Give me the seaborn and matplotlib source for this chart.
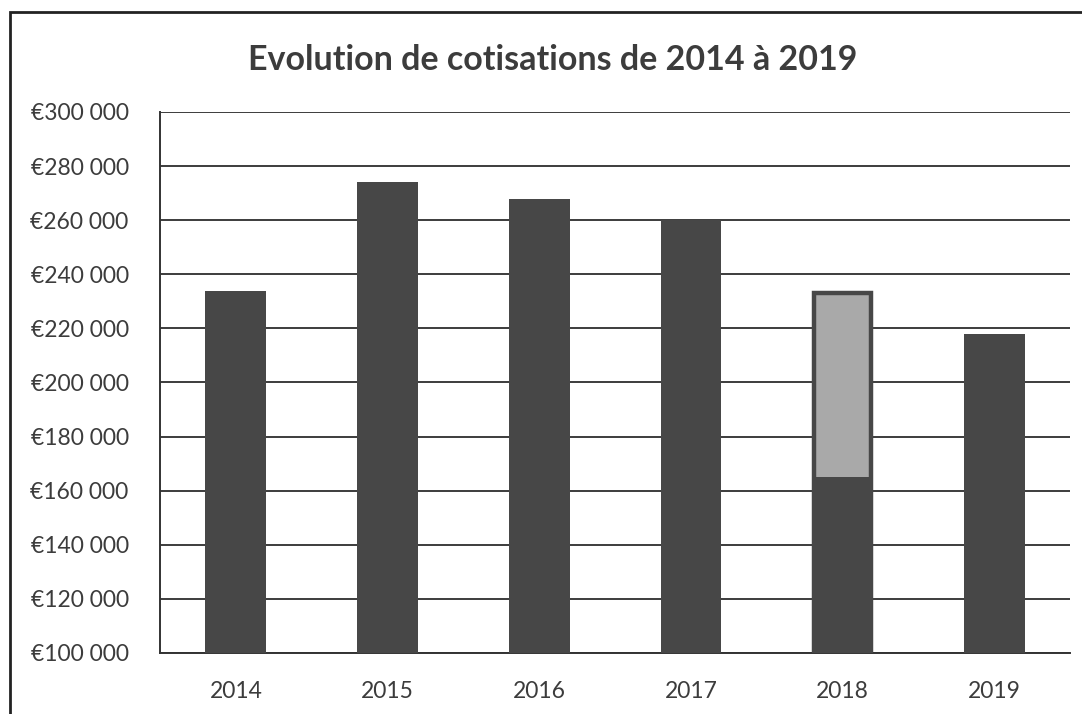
import pandas as pd
import matplotlib
matplotlib.use("Agg")
import matplotlib.pyplot as plt
import seaborn as sns
from matplotlib.ticker import FuncFormatter, FixedLocator

# === Data ===
years = ["2014", "2015", "2016", "2017", "2018", "2019"]
cotisations = [234000, 274000, 268000, 260000, 165000, 218000]
# 2018 has an extra (lighter) part stacked on top of the dark part
extra_year = ["2018"]
extra_total = [233000]

df = pd.DataFrame({"year": years, "value": cotisations})
df_extra = pd.DataFrame({"year": extra_year, "value": extra_total})

sns.set_style("white")
plt.rcParams["font.family"] = ["Lato", "DejaVu Sans"]

dark = "#474747"
light = "#a9a9a9"
text_col = "#3c3c3c"

fig, ax = plt.subplots(figsize=(10.82, 7.14), dpi=100)
fig.subplots_adjust(left=160 / 1082, right=1070 / 1082, top=1 - 112 / 714, bottom=1 - 653 / 714)

# light total for 2018 first (outline drawn inside the bar width), then the dark bars
sns.barplot(data=df_extra, x="year", y="value", order=years, color=light,
            saturation=1, width=0.37, edgecolor=dark, linewidth=3.2, ax=ax, zorder=2)
sns.barplot(data=df, x="year", y="value", order=years, color=dark,
            saturation=1, width=0.40, linewidth=0, ax=ax, zorder=3)

ax.set_ylim(100000, 300000)
ax.set_xlim(-0.5, len(years) - 0.5)
ax.set_yticks(range(100000, 300001, 20000))
ax.yaxis.set_major_formatter(FuncFormatter(lambda v, p: "€" + f"{v:,.0f}".replace(",", " ")))
ax.set_xlabel("")
ax.set_ylabel("")

ax.grid(axis="y", color="#3c3c3c", linewidth=1.4)
ax.set_axisbelow(True)
for s in ["top", "right"]:
    ax.spines[s].set_visible(False)
ax.spines["left"].set_color("#333333")
ax.spines["left"].set_linewidth(1.4)
ax.spines["bottom"].set_color("#333333")
ax.spines["bottom"].set_linewidth(1.4)

ax.tick_params(axis="y", length=6.5, width=1.4, color="#333333", labelsize=16.5,
               labelcolor=text_col, pad=16)
ax.tick_params(axis="x", which="major", length=0, labelsize=16.5, labelcolor=text_col, pad=20)
ax.xaxis.set_minor_locator(FixedLocator([i - 0.5 for i in range(len(years) + 1)]))
ax.tick_params(axis="x", which="minor", length=7, width=1.4, color="#333333")

fig.text(0.511, 1 - 60 / 714, "Evolution de cotisations de 2014 à 2019",
         ha="center", va="center", fontsize=24.5, fontweight="bold", color=text_col)

# outer chart frame (cut by the scan at right and bottom)
frame = plt.Rectangle((10 / 1082, -0.05), 1.1, 1.05 - 12 / 714, transform=fig.transFigure,
                      fill=False, edgecolor="#222222", linewidth=2, clip_on=False)
fig.patches.append(frame)

fig.savefig("out.png", dpi=100)
